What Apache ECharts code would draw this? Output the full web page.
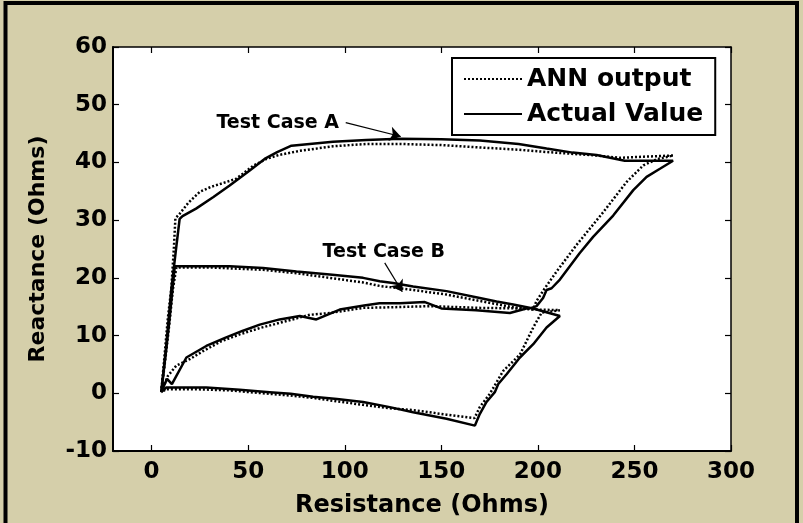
<!DOCTYPE html>
<html>
<head>
<meta charset="utf-8">
<title>Reactance vs Resistance</title>
<script src="https://cdn.jsdelivr.net/npm/echarts@6/dist/echarts.min.js"></script>
<style>
html,body{margin:0;padding:0;background:#d5cfaa;}
#main{width:803px;height:523px;}
</style>
</head>
<body>
<div id="main"></div>
<script>
// tick values
var xTicks = [0, 50, 100, 150, 200, 250, 300];
var yTicks = [-10, 0, 10, 20, 30, 40, 50, 60];

// Test Case A - actual (R, X)
var caseA_actual = [
	[5,0.3],[7.5,8],[10.2,18],[13,26],[14.5,30.2],[16,30.7],[23,32.0],[32,34],[40.4,36],[50.8,38.6],
	[58.5,40.6],[65,41.8],[72.4,42.9],[93.9,43.6],[111.2,43.9],[128.5,44.1],[150,44.0],[170,43.8],[190,43.2],
	[204.5,42.4],[218,41.7],[230.4,41.3],[245,40.3],[270,40.3],[263.2,38.9],[256.3,37.5],[249.4,35.2],
	[239,30.8],[228.6,27.1],[221.7,24.3],[211.4,19.7],[207.1,18.2],[204.5,17.9],[202.7,16.5],[199.3,15.1],
	[196.7,14.8],[194,14.7],[185.5,13.9],[168,14.4],[150,14.7],[141.5,15.8],[128.5,15.6],[118,15.6],
	[110,15.2],[97.4,14.5],[85.3,12.8],[76.7,13.4],[66.3,12.8],[56,11.9],[47,10.8],[38,9.6],[28.3,8.2],
	[18,6.2],[10.5,1.6],[8,2.5],[5,0.3]
];
// Test Case A - ANN output
var caseA_ann = [
	[5,0.2],[8.4,13],[10.2,18.2],[11.5,25],[12.3,30.3],[14.5,31.1],[19,33],[24.9,34.9],[31,35.8],[38.7,36.6],
	[43.9,37.2],[52.5,39.4],[59.4,40.6],[66,41.3],[76.7,42],[93.9,42.8],[111.2,43.2],[128.5,43.2],[150,43.0],
	[169.9,42.6],[190,42.2],[204.5,41.8],[230.4,41.2],[242.5,40.8],[255,41],[270.1,41.2],[262,40.6],
	[254.6,39.5],[245.9,36.6],[233.9,31.4],[220,25.7],[209.7,21.1],[203.6,18.2],[199.3,16],[197.5,14.5],
	[190.7,14.7],[170,14.8],[144,15.1],[123.3,14.9],[109.5,14.8],[92.2,13.9],[81.9,13.6],[66.3,12.2],
	[56,11.3],[45.6,10.2],[36,9],[26.6,7.3],[19.7,5.9],[12.8,4.8],[8.4,3],[5,0.2]
];
// Test Case B - actual
var caseB_actual = [
	[5,0.2],[7,6],[9,12],[10.5,17],[12,22],[25,22],[40.4,22],[57.7,21.7],[75,21.1],[92.2,20.6],[109.5,20],
	[118.1,19.4],[125,19.1],[135.4,18.5],[152.7,17.7],[169.9,16.5],[178.6,15.9],[187.2,15.4],[197.5,14.7],
	[211.4,13.4],[204.5,11.4],[197.6,8.5],[190.7,6.2],[183.8,3.3],[179.5,1.6],[177.7,0.2],[173.4,-1.5],
	[169.9,-3.6],[167.4,-5.6],[152.7,-4.4],[135.4,-3.3],[123.3,-2.4],[109.5,-1.5],[96,-1],[83.6,-0.6],
	[72,-0.1],[61.1,0.2],[45.6,0.6],[28.3,1.0],[18,1.0],[7.6,1.0],[5,0.2]
];
// Test Case B - ANN output
var caseB_ann = [
	[5,0.2],[7.5,7],[9.5,13],[11,18],[12.8,21.8],[30,21.8],[57.7,21.4],[75,20.8],[92.2,20],[109.5,19.2],
	[118.1,18.6],[135.4,17.9],[152.7,17.1],[169.9,16],[187.2,14.9],[200,14.5],[211.4,14.4],[202,14.0],
	[197.6,11.4],[190.7,6.7],[182.1,3.9],[175.1,-0.1],[169.9,-2.4],[167.2,-4.3],[152.7,-3.7],[135.4,-2.9],
	[123.3,-2.6],[109.5,-2],[96,-1.4],[83.6,-0.8],[72,-0.4],[61.1,-0.1],[40.4,0.5],[23.2,0.7],[7.6,0.7],[5,0.2]
];

// annotations (data coords)
var noteA = {text: 'Test Case A', at: [65.3, 46.8], from: [100.5, 46.9], to: [129, 44.5]};
var noteB = {text: 'Test Case B', at: [120.2, 24.4], from: [120.7, 22.6], to: [129.8, 17.6]};

var font = 'DejaVu Sans';
var chart = echarts.init(document.getElementById('main'));

function lineSeries(name, data, dotted, extra){
	var s = {
		name: name,
		type: 'line',
		data: data,
		symbol: 'none',
		showSymbol: false,
		silent: true,
		animation: false,
		color: '#000',
		lineStyle: dotted ? {color:'#000', width:2.5, type:[2,2]} : {color:'#000', width:2.5, type:'solid'}
	};
	if(extra){ for(var k in extra){ s[k] = extra[k]; } }
	return s;
}

var arrowLines = {
	silent: true,
	animation: false,
	symbol: ['none', 'arrow'],
	symbolSize: 11,
	label: {show: false},
	lineStyle: {color: '#000', width: 1.2, type: 'solid'},
	data: [
		[{coord: noteA.from}, {coord: noteA.to}],
		[{coord: noteB.from}, {coord: noteB.to}]
	]
};

var tickLabel = {color:'#000', fontFamily:font, fontWeight:'bold', fontSize:23};

chart.setOption({
	backgroundColor: '#d5cfaa',
	animation: false,
	grid: {left:113, right:72, top:47, bottom:69, show:true, backgroundColor:'#fff', borderWidth:0},
	legend: {
		orient: 'vertical',
		left: 452,
		top: 58,
		padding: [6, 12, 6, 11],
		itemGap: 5,
		itemWidth: 58,
		itemHeight: 14,
		backgroundColor: '#fff',
		borderColor: '#000',
		borderWidth: 2,
		borderRadius: 0,
		selectedMode: false,
		itemStyle: {opacity: 0},
		textStyle: {color:'#000', fontFamily:font, fontWeight:'bold', fontSize:25, lineHeight:30},
		data: ['ANN output', 'Actual Value']
	},
	xAxis: [{
		type: 'value', min: -20, max: 300, position: 'bottom',
		name: 'Resistance (Ohms)', nameLocation: 'middle', nameGap: 43,
		nameTextStyle: {color:'#000', fontFamily:font, fontWeight:'bold', fontSize:24},
		axisLine: {onZero:false, lineStyle:{color:'#000', width:2}},
		axisTick: {inside:true, length:6, customValues:xTicks, lineStyle:{color:'#000', width:1.2}},
		axisLabel: Object.assign({margin:10, customValues:xTicks}, tickLabel),
		splitLine: {show:false}
	}, {
		type: 'value', min: -20, max: 300, position: 'top',
		axisLine: {onZero:false, lineStyle:{color:'#000', width:1.5}},
		axisTick: {inside:true, length:6, customValues:xTicks, lineStyle:{color:'#000', width:1.2}},
		axisLabel: {show:false},
		splitLine: {show:false}
	}],
	yAxis: [{
		type: 'value', min: -10, max: 60, interval: 10, position: 'left',
		name: 'Reactance (Ohms)', nameLocation: 'middle', nameGap: 64,
		nameTextStyle: {color:'#000', fontFamily:font, fontWeight:'bold', fontSize:22},
		axisLine: {onZero:false, lineStyle:{color:'#000', width:2}},
		axisTick: {inside:true, length:6, lineStyle:{color:'#000', width:1.2}},
		axisLabel: Object.assign({margin:6}, tickLabel),
		splitLine: {show:false}
	}, {
		type: 'value', min: -10, max: 60, interval: 10, position: 'right',
		axisLine: {onZero:false, lineStyle:{color:'#000', width:1.5}},
		axisTick: {inside:true, length:6, lineStyle:{color:'#000', width:1.2}},
		axisLabel: {show:false},
		splitLine: {show:false}
	}],
	series: [
		lineSeries('ANN output', caseA_ann, true),
		lineSeries('ANN output', caseB_ann, true),
		lineSeries('Actual Value', caseA_actual, false),
		lineSeries('Actual Value', caseB_actual, false, {markLine: arrowLines})
	],
	graphic: [{
		type: 'rect', id: 'frame', silent: true,
		shape: {x:5.5, y:3, width:791.5, height:600},
		style: {fill:'none', stroke:'#000', lineWidth:4}
	}]
});

//annotation text
function noteText(id, n){
	var p = chart.convertToPixel({gridIndex:0}, n.at);
	return {
		type: 'text', id: id, x: p[0], y: p[1], z: 10, silent: true,
		style: {text:n.text, fill:'#000', fontFamily:font, fontWeight:'bold', fontSize:19, align:'center', verticalAlign:'middle'}
	};
}
chart.setOption({graphic: [noteText('ta', noteA), noteText('tb', noteB)]});
</script>
</body>
</html>
